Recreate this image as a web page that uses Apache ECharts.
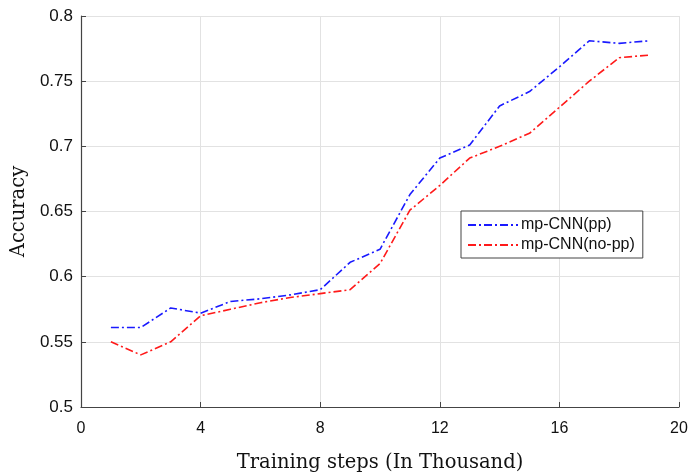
<!DOCTYPE html>
<html>
<head>
<meta charset="utf-8">
<script src="https://cdn.jsdelivr.net/npm/echarts@6/dist/echarts.min.js"></script>
<style>
  html, body { margin: 0; padding: 0; background: #fff; }
  #chart_main { width: 691px; height: 472px; }
</style>
</head>
<body>
<div id="chart_main"></div>
<script>
// training steps (in thousand)
var steps = [1, 2, 3, 4, 5, 6, 7, 8, 9, 10, 11, 12, 13, 14, 15, 16, 17, 18, 19];
var accPP = [0.561, 0.561, 0.576, 0.572, 0.581, 0.583, 0.586, 0.590, 0.611, 0.621, 0.663, 0.691, 0.701, 0.731, 0.742, 0.761, 0.781, 0.779, 0.781];
var accNoPP = [0.550, 0.540, 0.550, 0.570, 0.575, 0.580, 0.584, 0.587, 0.590, 0.610, 0.651, 0.670, 0.691, 0.700, 0.710, 0.730, 0.750, 0.768, 0.770];
var seriesNames = ["mp-CNN(pp)", "mp-CNN(no-pp)"];
var xTicks = [0, 4, 8, 12, 16, 20];
var yTicks = [0.5, 0.55, 0.6, 0.65, 0.7, 0.75, 0.8];

function toPairs(ys) {
  return steps.map(function (s, i) { return [s, ys[i]]; });
}

var dashDot = [8, 3, 2, 3];

var option = {
  animation: false,
  grid: { left: 81, top: 16, right: 12, bottom: 65, outerBoundsMode: "none" },
  legend: {
    orient: "vertical",
    left: 461,
    top: 211,
    width: 183,
    padding: [6, 8, 5, 6],
    itemGap: 4,
    itemWidth: 50,
    itemHeight: 16,
    borderColor: "#444",
    borderWidth: 1,
    backgroundColor: "#fff",
    data: seriesNames,
    // only the dash-dot line in the legend, no marker
    itemStyle: { opacity: 0 },
    textStyle: {
      fontFamily: "Liberation Sans",
      fontSize: 16,
      color: "#111",
      padding: [0, 0, 0, -2]
    }
  },
  xAxis: {
    type: "value",
    min: xTicks[0],
    max: xTicks[xTicks.length - 1],
    interval: xTicks[1] - xTicks[0],
    name: "Training steps (In Thousand)",
    nameLocation: "middle",
    nameGap: 46,
    nameTextStyle: { fontFamily: "DejaVu Serif", fontSize: 19.5, color: "#111" },
    axisLine: { lineStyle: { color: "#444", width: 1.2 } },
    axisTick: { inside: true, length: 5, lineStyle: { color: "#444" } },
    axisLabel: { fontFamily: "Liberation Sans", fontSize: 16, color: "#111", margin: 14 },
    splitLine: { show: true, lineStyle: { color: "#e2e2e2", width: 1 } }
  },
  yAxis: {
    type: "value",
    min: yTicks[0],
    max: yTicks[yTicks.length - 1],
    interval: 0.05,
    name: "Accuracy",
    nameLocation: "middle",
    nameGap: 52,
    nameTextStyle: { fontFamily: "DejaVu Serif", fontSize: 19.5, color: "#111" },
    axisLine: { show: true, lineStyle: { color: "#444", width: 1.2 } },
    axisTick: { show: true, inside: true, length: 5, lineStyle: { color: "#444" } },
    axisLabel: {
      fontFamily: "Liberation Sans",
      fontSize: 17,
      color: "#111",
      margin: 8,
      formatter: function (v) { return String(Math.round(v * 100) / 100); }
    },
    splitLine: { show: true, lineStyle: { color: "#e2e2e2", width: 1 } }
  },
  series: [
    {
      name: seriesNames[0],
      type: "line",
      symbol: "none",
      color: "#1a1aff",
      lineStyle: { color: "#1a1aff", width: 1.6, type: dashDot },
      data: toPairs(accPP)
    },
    {
      name: seriesNames[1],
      type: "line",
      symbol: "none",
      color: "#ff1a1a",
      lineStyle: { color: "#ff1a1a", width: 1.6, type: dashDot },
      data: toPairs(accNoPP)
    }
  ]
};

var myChart = echarts.init(document.getElementById("chart_main"));
myChart.setOption(option);
</script>
</body>
</html>
